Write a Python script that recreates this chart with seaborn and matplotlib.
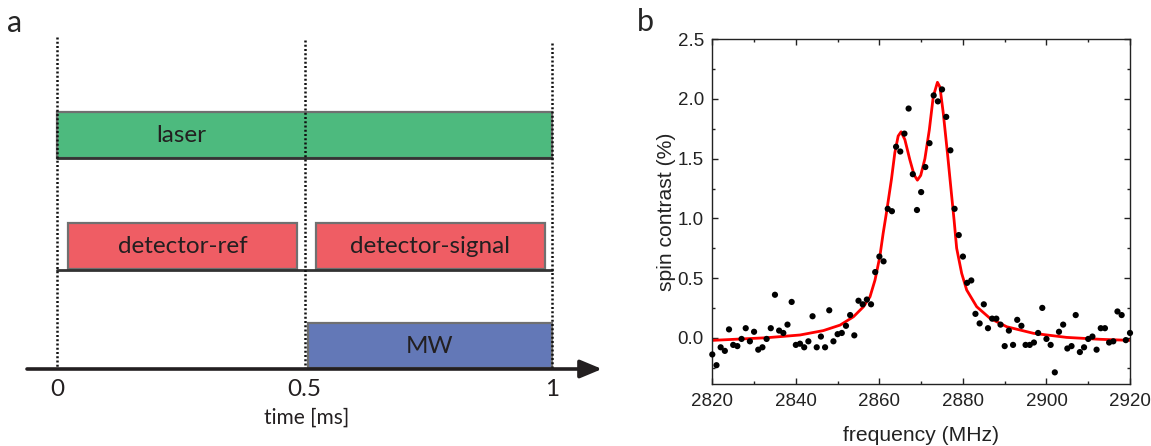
import matplotlib
matplotlib.use('Agg')
import matplotlib.pyplot as plt
from matplotlib.ticker import MultipleLocator
import seaborn as sns
import pandas as pd
import numpy as np

# ---- panel a: pulse sequence (times in ms) ----
channels = ['laser', 'detector-ref', 'detector-signal', 'MW']
t_start = [0.0, 0.022, 0.523, 0.507]
t_end = [1.0, 0.485, 0.985, 1.0]
time_ticks = [0, 0.5, 1]
time_tick_labels = ['0', '0.5', '1']

# ---- panel b: ODMR spectrum ----
freq = np.arange(2820, 2921)  # 1 MHz steps
contrast = [
    -0.14, -0.23, -0.08, -0.11, 0.07, -0.06, -0.07, -0.01, 0.08, -0.03,
    0.05, -0.10, -0.08, -0.01, 0.08, 0.36, 0.06, 0.04, 0.11, 0.30,
    -0.06, -0.05, -0.08, -0.03, 0.18, -0.08, 0.01, -0.08, 0.23, -0.03,
    0.03, 0.04, 0.10, 0.19, 0.02, 0.31, 0.28, 0.32, 0.28, 0.55,
    0.68, 0.64, 1.08, 1.06, 1.60, 1.56, 1.71, 1.92, 1.37, 1.07,
    1.22, 1.43, 1.63, 2.03, 1.98, 2.08, 1.85, 1.57, 1.08, 0.86,
    0.68, 0.46, 0.48, 0.20, 0.12, 0.28, 0.08, 0.16, 0.16, 0.11,
    -0.07, 0.06, -0.06, 0.15, 0.10, -0.06, -0.06, -0.04, 0.04, 0.25,
    -0.01, -0.06, -0.29, 0.05, 0.11, -0.09, -0.07, 0.19, -0.12, -0.08,
    -0.01, 0.01, -0.10, 0.08, 0.08, -0.04, -0.03, 0.22, 0.19, -0.02,
    0.04,
]
fit_freq = [2820, 2833, 2841, 2846.6, 2850.6, 2853.8, 2856.2, 2857.75, 2858.95,
            2860.1, 2860.9, 2861.75, 2862.9, 2863.7, 2864.5, 2865.2, 2866.1,
            2867.3, 2868.3, 2869.1, 2869.9, 2870.9, 2871.95, 2872.9, 2873.9,
            2874.5, 2875.3, 2876.3, 2877.3, 2877.9, 2878.5, 2879.7, 2880.9,
            2883.3, 2886.5, 2890.5, 2896.9, 2904.8, 2912.8, 2920]
fit_val = [-0.022, 0.0, 0.023, 0.06, 0.106, 0.176, 0.26, 0.343, 0.483,
           0.678, 0.874, 1.06, 1.33, 1.55, 1.69, 1.725, 1.66,
           1.49, 1.365, 1.32, 1.36, 1.50, 1.74, 2.02, 2.14,
           2.10, 1.88, 1.545, 1.19, 0.98, 0.75, 0.54, 0.40,
           0.26, 0.162, 0.092, 0.037, 0.003, -0.013, -0.022]

df_pts = pd.DataFrame({'frequency': freq, 'contrast': contrast})
df_fit = pd.DataFrame({'frequency': fit_freq, 'contrast': fit_val})

sns.set_style('ticks')
plt.rcParams['font.family'] = ['Liberation Sans', 'DejaVu Sans']

W, H = 1151, 446
fig = plt.figure(figsize=(W / 100, H / 100), dpi=100)

# ---------- panel a ----------
axa = fig.add_axes([0, 0, 620 / W, 1])
px0, px_per_ms = 57, 495
axa.set_xlim((0 - px0) / px_per_ms, (620 - px0) / px_per_ms)
axa.set_ylim(H, 0)  # vertical layout in pixel rows
axa.axis('off')

colors = {'laser': '#4dba7e', 'detector-ref': '#ef5d64',
          'detector-signal': '#ef5d64', 'MW': '#6378b7'}
row_y = {'laser': 135, 'detector-ref': 245.5, 'detector-signal': 245.5, 'MW': 345.5}
row_h = {'laser': 46, 'detector-ref': 46, 'detector-signal': 46, 'MW': 45}
label_x = {'laser': 0.25}
fa = ['Lato', 'DejaVu Sans']

for ch, s, e in zip(channels, t_start, t_end):
    axa.barh(row_y[ch], e - s, left=s, height=row_h[ch], color=colors[ch],
             edgecolor='#707070', linewidth=1.6, zorder=2)
    axa.text(label_x.get(ch, (s + e) / 2), row_y[ch] + 1, ch, ha='center', va='center',
             fontsize=17.5, color='#231f20', family=fa, zorder=4)

# baselines
axa.plot([0, 1], [158, 158], color='#333333', lw=2, zorder=3)
axa.plot([0, 1], [269.5, 269.5], color='#333333', lw=2, zorder=3)

# dotted time markers
for t, top in zip(time_ticks, [37, 40, 43]):
    axa.plot([t, t], [top, 369], color='#111111', lw=1.8, ls=(0, (0.8, 0.9)), zorder=5)

# time arrow
axa.annotate('', xy=((602 - px0) / px_per_ms, 369), xytext=((27 - px0) / px_per_ms, 369),
             arrowprops=dict(arrowstyle='-|>,head_length=0.6,head_width=0.25',
                             lw=2.6, color='#231f20', mutation_scale=22,
                             shrinkA=0, shrinkB=0), zorder=6)

for t, lab in zip(time_ticks, time_tick_labels):
    axa.text(t, 390, lab, ha='center', va='center', fontsize=17.5, color='#231f20', family=fa)
axa.text(0.505, 418, 'time [ms]', ha='center', va='center', fontsize=15, color='#231f20', family=fa)

fig.text(15 / W, 1 - 23 / H, 'a', fontsize=22, ha='center', va='center', family=fa)
fig.text(645 / W, 1 - 22 / H, 'b', fontsize=22, ha='center', va='center', family=fa)

# ---------- panel b ----------
axb = fig.add_axes([712.3 / W, 1 - 384.3 / H, (1130 - 712.3) / W, (384.3 - 39.3) / H])
sns.lineplot(data=df_fit, x='frequency', y='contrast', ax=axb, color='#ff0000',
             lw=2.0, zorder=2, sort=True)
sns.scatterplot(data=df_pts, x='frequency', y='contrast', ax=axb, color='black',
                s=20, edgecolor='none', zorder=3, clip_on=False)
axb.set_xlim(2820, 2920)
axb.set_ylim(-0.39, 2.5)
axb.xaxis.set_major_locator(MultipleLocator(20))
axb.xaxis.set_minor_locator(MultipleLocator(10))
axb.yaxis.set_major_locator(MultipleLocator(0.5))
axb.yaxis.set_minor_locator(MultipleLocator(0.25))
axb.set_yticks([0, 0.5, 1.0, 1.5, 2.0, 2.5])
axb.set_yticklabels(['0.0', '0.5', '1.0', '1.5', '2.0', '2.5'])
axb.tick_params(which='both', direction='in', top=True, right=True,
                labelsize=13.5, colors='#222222', width=1)
axb.tick_params(which='major', length=4, pad=6)
axb.tick_params(which='minor', length=2.5)
for sp in axb.spines.values():
    sp.set_linewidth(1.0)
    sp.set_color('#222222')
axb.set_xlabel('frequency (MHz)', fontsize=15.2, labelpad=12, color='#222222')
axb.set_ylabel('spin contrast (%)', fontsize=15.2, labelpad=1, color='#222222')

fig.savefig('out.png', dpi=100)
